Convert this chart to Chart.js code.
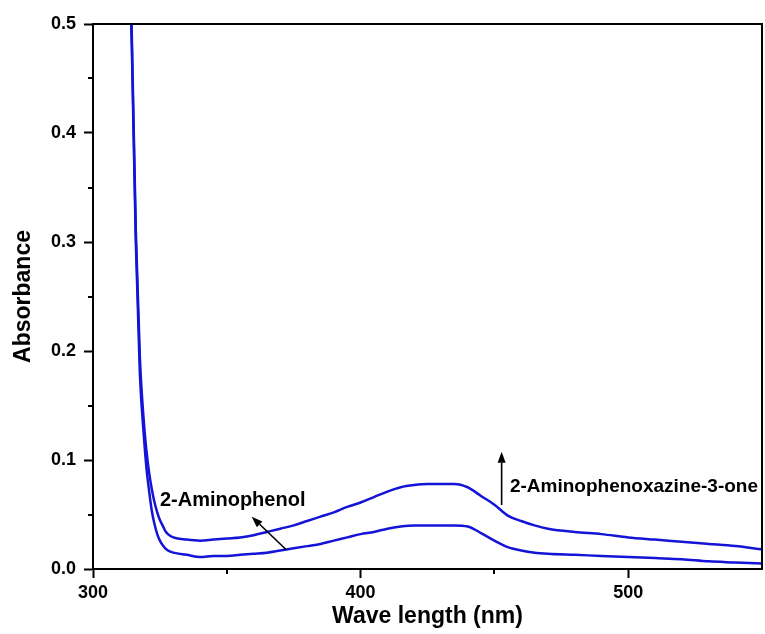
<!DOCTYPE html>
<html>
<head>
<meta charset="utf-8">
<script src="https://cdn.jsdelivr.net/npm/chart.js@4"></script>
<style>
  body { margin: 0; background: #fff; }
</style>
</head>
<body>
<canvas id="myChart" width="765" height="634"></canvas>
<script>
// wavelengths (nm)
const wavelengths = [313, 314.5, 316, 317.5, 319, 320, 321, 322, 323, 324, 325, 326, 327, 328, 330,
    335, 340, 345, 350, 355, 360, 365, 370, 375, 380, 385, 390, 395, 400, 405, 410, 415, 420,
    425, 430, 435, 440, 445, 450, 455, 460, 465, 470, 480, 490, 500, 510, 520, 530, 540, 550];

// after reaction (upper curve)
const upperAbs = [0.62, 0.49, 0.31, 0.195, 0.135, 0.108, 0.088, 0.073, 0.061, 0.052, 0.045, 0.040, 0.035, 0.032, 0.029,
    0.027, 0.026, 0.027, 0.028, 0.029, 0.031, 0.034, 0.037, 0.040, 0.044, 0.048, 0.052, 0.057, 0.061, 0.066, 0.071, 0.075, 0.077,
    0.078, 0.078, 0.078, 0.075, 0.067, 0.059, 0.049, 0.044, 0.040, 0.037, 0.034, 0.032, 0.029, 0.027, 0.025, 0.023, 0.021, 0.018];

// before reaction (lower curve)
const lowerAbs = [0.61, 0.48, 0.30, 0.18, 0.122, 0.092, 0.071, 0.053, 0.041, 0.032, 0.026, 0.022, 0.019, 0.017, 0.015,
    0.013, 0.011, 0.012, 0.012, 0.013, 0.014, 0.015, 0.017, 0.019, 0.021, 0.023, 0.026, 0.029, 0.032, 0.034, 0.037, 0.039, 0.040,
    0.040, 0.040, 0.040, 0.039, 0.033, 0.026, 0.020, 0.017, 0.015, 0.014, 0.013, 0.012, 0.011, 0.010, 0.009, 0.007, 0.006, 0.005];

const xMajorTicks = [300, 400, 500];
const xMinorTicks = [350, 450];
const yMinorTicks = [0.05, 0.15, 0.25, 0.35, 0.45];

// annotation labels: [text, x (nm), y (abs)]
const labels = [
    ['2-Aminophenol', 325, 0.063],
    ['2-Aminophenoxazine-3-one', 455.8, 0.0755]
];
// arrows: [fromX, fromY, toX, toY] (head at "to")
const arrows = [
    [372.3, 0.0174, 359.3, 0.048],
    [452.7, 0.0587, 452.7, 0.1076]
];

const blue = '#1414d6';
const font = 'Liberation Sans, Arial, sans-serif';

function toPoints(ys) {
    return wavelengths.map((x, i) => ({x: x, y: ys[i]}));
}

const extras = {
    id: 'extras',
    afterDraw(chart) {
        const ctx = chart.ctx;
        const area = chart.chartArea;
        const xs = chart.scales.x;
        const ys = chart.scales.y;
        ctx.save();
        // frame top / right
        ctx.strokeStyle = '#000';
        ctx.lineWidth = 2;
        ctx.beginPath();
        ctx.moveTo(area.left, area.top);
        ctx.lineTo(area.right, area.top);
        ctx.lineTo(area.right, area.bottom);
        ctx.stroke();
        // minor ticks
        ctx.beginPath();
        xMinorTicks.forEach(v => {
            const px = Math.round(xs.getPixelForValue(v));
            ctx.moveTo(px, area.bottom);
            ctx.lineTo(px, area.bottom + 5);
        });
        yMinorTicks.forEach(v => {
            const py = Math.round(ys.getPixelForValue(v));
            ctx.moveTo(area.left, py);
            ctx.lineTo(area.left - 5, py);
        });
        ctx.stroke();
        // arrows
        ctx.fillStyle = '#000';
        ctx.lineWidth = 1.6;
        arrows.forEach(a => {
            const x1 = xs.getPixelForValue(a[0]), y1 = ys.getPixelForValue(a[1]);
            const x2 = xs.getPixelForValue(a[2]), y2 = ys.getPixelForValue(a[3]);
            const ang = Math.atan2(y2 - y1, x2 - x1);
            const len = 11, half = 4;
            const bx = x2 - len * Math.cos(ang), by = y2 - len * Math.sin(ang);
            ctx.beginPath();
            ctx.moveTo(x1, y1);
            ctx.lineTo(bx, by);
            ctx.stroke();
            ctx.beginPath();
            ctx.moveTo(x2, y2);
            ctx.lineTo(bx + half * Math.sin(ang), by - half * Math.cos(ang));
            ctx.lineTo(bx - half * Math.sin(ang), by + half * Math.cos(ang));
            ctx.closePath();
            ctx.fill();
        });
        // labels (first one a touch larger, as in the original)
        ctx.textBaseline = 'middle';
        ctx.textAlign = 'left';
        labels.forEach((l, i) => {
            ctx.font = 'bold ' + (i === 0 ? 20 : 19) + 'px ' + font;
            ctx.fillText(l[0], xs.getPixelForValue(l[1]), ys.getPixelForValue(l[2]));
        });
        ctx.restore();
    }
};

const config = {
    type: 'line',
    data: {
        datasets: [{
            label: 'upper',
            data: toPoints(upperAbs),
            borderColor: blue,
            borderWidth: 2.5,
            pointRadius: 0,
            cubicInterpolationMode: 'monotone'
        }, {
            label: 'lower',
            data: toPoints(lowerAbs),
            borderColor: blue,
            borderWidth: 2.5,
            pointRadius: 0,
            cubicInterpolationMode: 'monotone'
        }]
    },
    options: {
        responsive: false,
        animation: false,
        layout: {
            padding: {left: 0, right: 3, top: 24, bottom: 0}
        },
        plugins: {
            legend: {display: false},
            tooltip: {enabled: false}
        },
        scales: {
            x: {
                type: 'linear',
                min: 300,
                max: 550,
                afterFit: s => { s.height = 65; },
                afterBuildTicks: s => { s.ticks = xMajorTicks.map(v => ({value: v})); },
                ticks: {
                    includeBounds: false,
                    padding: 4,
                    color: '#000',
                    font: {family: font, size: 18, weight: 'bold'}
                },
                grid: {drawOnChartArea: false, drawTicks: true, tickLength: 9, tickWidth: 2, tickColor: '#000'},
                border: {display: true, width: 2, color: '#000'},
                title: {
                    display: true,
                    text: 'Wave length (nm)',
                    color: '#000',
                    font: {family: font, size: 23, weight: 'bold'},
                    padding: {top: 0, bottom: 4}
                }
            },
            y: {
                min: 0,
                max: 0.5,
                afterFit: s => { s.width = 93; },
                ticks: {
                    stepSize: 0.1,
                    padding: 8,
                    color: '#000',
                    callback: v => v.toFixed(1),
                    font: {family: font, size: 18, weight: 'bold'}
                },
                grid: {drawOnChartArea: false, drawTicks: true, tickLength: 9, tickWidth: 2, tickColor: '#000'},
                border: {display: true, width: 2, color: '#000'},
                title: {
                    display: true,
                    text: 'Absorbance',
                    color: '#000',
                    font: {family: font, size: 23, weight: 'bold'},
                    padding: {top: 10, bottom: 0}
                }
            }
        }
    },
    plugins: [extras]
};

var myChart = new Chart(document.getElementById('myChart'), config);
</script>
</body>
</html>
